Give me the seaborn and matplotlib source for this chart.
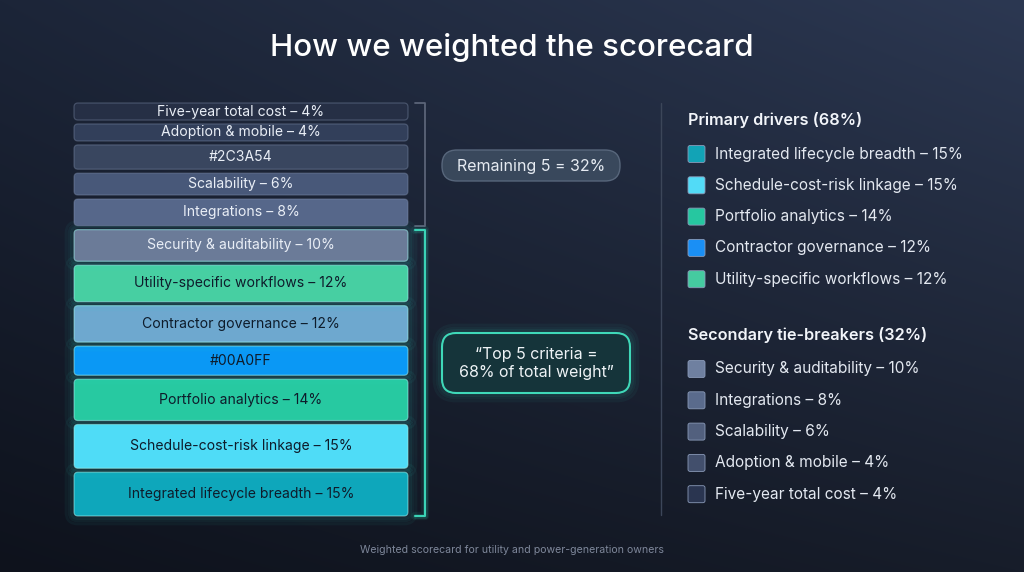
import numpy as np
import pandas as pd
import seaborn as sns
import matplotlib.pyplot as plt
from matplotlib.patches import FancyBboxPatch
from matplotlib.colors import to_rgb

sns.set_theme(style="dark")
plt.rcParams["font.family"] = ["Inter", "DejaVu Sans"]

# stacked segments, bottom to top
segment_labels = [
    "Integrated lifecycle breadth – 15%",
    "Schedule-cost-risk linkage – 15%",
    "Portfolio analytics – 14%",
    "#00A0FF",
    "Contractor governance – 12%",
    "Utility-specific workflows – 12%",
    "Security & auditability – 10%",
    "Integrations – 8%",
    "Scalability – 6%",
    "#2C3A54",
    "Adoption & mobile – 4%",
    "Five-year total cost – 4%",
]
segment_weights = [15, 15, 14, 9, 12, 12, 10, 8, 6, 7, 4, 4]
segment_colors = ["#0ea7bb", "#4fdcf7", "#27c9a1", "#0a98f5", "#6ea8cf", "#47cfa2",
                  "#6b7b98", "#56678a", "#485879", "#39465f", "#323f5a", "#262f45"]
segment_text_colors = ["#0e1c2b"] * 6 + ["#e9eef6"] * 6
highlighted = 7  # lower segments under the teal bracket

primary_names = ["Integrated lifecycle breadth", "Schedule-cost-risk linkage",
                 "Portfolio analytics", "Contractor governance", "Utility-specific workflows"]
primary_weights = [15, 15, 14, 12, 12]
primary_colors = ["#12a3b6", "#52dbf7", "#26c7a0", "#1a8ff5", "#45cba0"]

secondary_names = ["Security & auditability", "Integrations", "Scalability",
                   "Adoption & mobile", "Five-year total cost"]
secondary_weights = [10, 8, 6, 4, 4]
secondary_colors = ["#6f80a0", "#5a6b8c", "#52607e", "#424f6c", "#2a3550"]

PAD = 3.0   # extra height per segment so small ones can hold a label
GAP = 1.6

df = pd.DataFrame({"label": segment_labels, "weight": segment_weights,
                   "color": segment_colors, "text": segment_text_colors})
df["height"] = df["weight"] + PAD
df["bottom"] = df["height"].cumsum().shift(fill_value=0) + GAP * np.arange(len(df))
total = df["bottom"].iloc[-1] + df["height"].iloc[-1]

W, H = 1024, 572
fig = plt.figure(figsize=(W / 100, H / 100), dpi=100)

# background gradient
ax_bg = fig.add_axes([0, 0, 1, 1])
tl, tr, bl, br = [np.array(to_rgb(c)) for c in ("#1c2538", "#2c3852", "#0e121c", "#171d2a")]
u = np.linspace(0, 1, W)[None, :, None]
v = np.linspace(0, 1, H)[:, None, None]
bg = (1 - v) * ((1 - u) * tl + u * tr) + v * ((1 - u) * bl + u * br)
ax_bg.imshow(bg, aspect="auto", extent=[0, W, H, 0])
ax_bg.axis("off")

# stacked bar
ax_bar = fig.add_axes([74 / W, 56 / H, 334 / W, 413 / H])
for _, row in df.iterrows():
    sns.barplot(x=["stack"], y=[row.height], bottom=row.bottom, color=row.color,
                width=1.0, saturation=1, errorbar=None, ax=ax_bar)
ax_bar.set_xlim(-0.5, 0.5)
ax_bar.set_ylim(0, total)
ax_bar.axis("off")
ax_bar.patch.set_alpha(0)

p0, p1 = ax_bar.transData.transform([(0, 0), (1, 1)])
px_x, px_y = p1 - p0
aspect = px_x / px_y
rad = 4 / px_x

bars = list(ax_bar.patches)
for i, p in enumerate(bars):
    x, y, w, h = p.get_x(), p.get_y(), p.get_width(), p.get_height()
    fc = p.get_facecolor()
    p.remove()
    if i < highlighted:
        for g, a in [(8, 0.05), (5, 0.07), (2.5, 0.11)]:
            ax_bar.add_patch(FancyBboxPatch((x, y), w, h, boxstyle=f"round,pad={g / px_x},rounding_size={rad + g / px_x}",
                                            mutation_aspect=aspect, fc="none", ec="#2fe0d0",
                                            lw=2, alpha=a, clip_on=False))
        ec, ea = "#9af2ee", 0.55
    else:
        ec, ea = "#8a9ab8", 0.35
    ax_bar.add_patch(FancyBboxPatch((x, y), w, h, boxstyle=f"round,pad=0,rounding_size={rad}",
                                    mutation_aspect=aspect, fc=fc, ec="none", clip_on=False))
    ax_bar.add_patch(FancyBboxPatch((x, y), w, h, boxstyle=f"round,pad=0,rounding_size={rad}",
                                    mutation_aspect=aspect, fc="none", ec=ec, lw=0.9,
                                    alpha=ea, clip_on=False))

for _, row in df.iterrows():
    ax_bar.text(0, row.bottom + row.height / 2, row.label, ha="center", va="center",
                color=row.text, fontsize=10.1)

# brackets
bx0 = 0.5 + 7 / px_x
bx1 = 0.5 + 17 / px_x
split_lo = df["bottom"].iloc[highlighted - 1] + df["height"].iloc[highlighted - 1]
split_hi = df["bottom"].iloc[highlighted]
ax_bar.plot([bx0, bx1, bx1, bx0], [total, total, split_hi, split_hi], color="#5b6478",
            lw=1.3, solid_joinstyle="round", clip_on=False)
for lw, a in [(6, 0.08), (3.5, 0.15)]:
    ax_bar.plot([bx0, bx1, bx1, bx0], [split_lo, split_lo, 0, 0], color="#2fe0c0",
                lw=lw, alpha=a, solid_joinstyle="round", clip_on=False)
ax_bar.plot([bx0, bx1, bx1, bx0], [split_lo, split_lo, 0, 0], color="#3bd3b6",
            lw=1.5, solid_joinstyle="round", clip_on=False)

# overlay for text and legend (pixel coordinates)
ax = fig.add_axes([0, 0, 1, 1])
ax.set_xlim(0, W)
ax.set_ylim(H, 0)
ax.axis("off")
ax.patch.set_alpha(0)

ax.text(W / 2, 48, "How we weighted the scorecard", ha="center", va="center",
        color="white", fontsize=22.5, fontweight="medium")

# callouts
ax.add_patch(FancyBboxPatch((442, 150), 178, 31, boxstyle="round,pad=0,rounding_size=15",
                            fc="#3b4a5e", ec="#5a697e", lw=1, alpha=0.95))
ax.text(531, 166, f"Remaining {len(secondary_weights)} = {sum(secondary_weights)}%",
        ha="center", va="center", color="#e6ebf2", fontsize=11.5)

for g, a in [(8, 0.05), (5, 0.08), (2.5, 0.12)]:
    ax.add_patch(FancyBboxPatch((442, 333), 188, 60, boxstyle=f"round,pad={g},rounding_size={14 + g}",
                                fc="none", ec="#2fe0c0", lw=2, alpha=a))
ax.add_patch(FancyBboxPatch((442, 333), 188, 60, boxstyle="round,pad=0,rounding_size=14",
                            fc="#15343a", ec="#3fd8b8", lw=1.5))
ax.text(536, 363, f"“Top {len(primary_weights)} criteria =\n{sum(primary_weights)}% of total weight”",
        ha="center", va="center", color="#eef3f6", fontsize=11.5, linespacing=1.25)

# divider
ax.plot([661, 661], [103, 515], color="#3c4659", lw=1)


def legend_block(y_head, title, names, weights, colors):
    ax.text(688, y_head, title, ha="left", va="center", color="#f2f5fa",
            fontsize=11.7, fontweight="semibold")
    for k, (n, w, c) in enumerate(zip(names, weights, colors)):
        yc = y_head + 34 + k * 31.3
        ax.add_patch(FancyBboxPatch((688, yc - 8.5), 17, 17, boxstyle="round,pad=0,rounding_size=2",
                                    fc=c, ec="#8a9ab8", lw=0.6))
        ax.text(715, yc, f"{n} – {w}%", ha="left", va="center", color="#e3e8f0", fontsize=11.1)


legend_block(120, f"Primary drivers ({sum(primary_weights)}%)",
             primary_names, primary_weights, primary_colors)
legend_block(335, f"Secondary tie-breakers ({sum(secondary_weights)}%)",
             secondary_names, secondary_weights, secondary_colors)

ax.text(W / 2, 550, "Weighted scorecard for utility and power-generation owners",
        ha="center", va="center", color="#7e879a", fontsize=7.6)

fig.savefig("out.png", dpi=100)
plt.close(fig)
